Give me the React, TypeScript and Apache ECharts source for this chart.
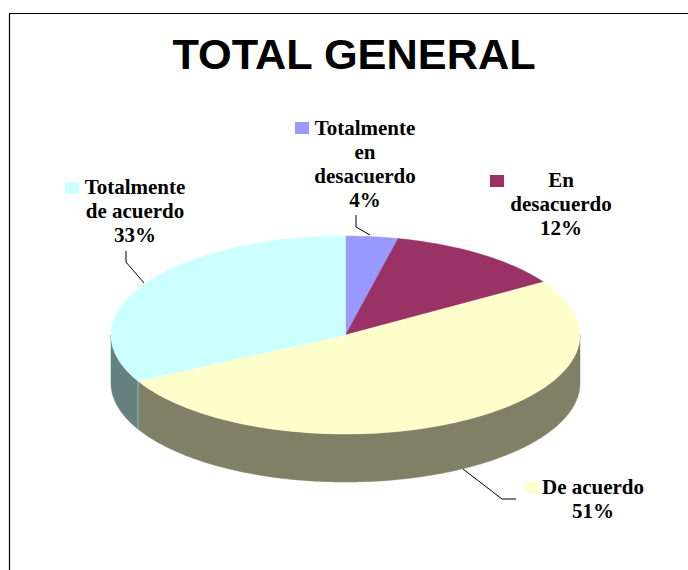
import React, { useEffect, useRef } from "react";
import * as echarts from "echarts";

const titleText = "TOTAL GENERAL";
const categories = ["Totalmente\nen\ndesacuerdo", "En\ndesacuerdo", "De acuerdo", "Totalmente\nde acuerdo"];
const values = [3.6, 12.4, 51.3, 32.7];

const topColors = ["#9999FF", "#993366", "#FFFFCC", "#CCFFFF"];
const wallColors = ["#666699", "#66223F", "#808066", "#668080"];

const CX = 345.5;
const CY = 335;
const RX = 234.5;
const RY = 99;
const DEPTH = 48;
const FONT = "'Liberation Serif', 'Times New Roman', serif";

// Layout of the outside labels (text centre, first-line top, key box, leader line).
const labelLayout = [
  { x: 365, y: 116, key: [295, 122], leader: [[356, 215], [356, 227], [370, 235]] },
  { x: 561, y: 168, key: [490, 175], leader: null },
  { x: 593, y: 475, key: [525, 481], leader: [[463, 469], [502, 499], [516, 499]] },
  { x: 135, y: 175, key: [65, 182], leader: [[126, 251], [126, 262], [144, 283]] },
];

const total = values.reduce((a, b) => a + b, 0);

function rim(deg: number, dy = 0): number[] {
  const t = (deg * Math.PI) / 180;
  return [CX + RX * Math.sin(t), CY - RY * Math.cos(t) + dy];
}

function arc(a: number, b: number, dy = 0): number[][] {
  const pts: number[][] = [];
  const n = Math.max(2, Math.ceil(Math.abs(b - a)));
  for (let i = 0; i <= n; i++) pts.push(rim(a + ((b - a) * i) / n, dy));
  return pts;
}

function renderItem(params: any, api: any) {
  const i = params.dataIndex;
  const before = values.slice(0, i).reduce((a, b) => a + b, 0);
  const v = api.value(0);
  const start = (before / total) * 360;
  const end = ((before + v) / total) * 360;
  const children: any[] = [];

  const wa = Math.max(start, 90);
  const wb = Math.min(end, 270);
  if (wb > wa) {
    children.push({
      type: "polygon",
      shape: { points: [...arc(wa, wb), ...arc(wb, wa, DEPTH)] },
      style: { fill: wallColors[i], stroke: wallColors[i], lineWidth: 0.5 },
    });
    if (start >= 90 && start < 270) {
      const p = rim(start);
      children.push({
        type: "line",
        shape: { x1: p[0], y1: p[1], x2: p[0], y2: p[1] + DEPTH },
        style: { stroke: "#8FB3B3", lineWidth: 1 },
      });
    }
  }
  children.push({
    type: "polygon",
    shape: { points: [[CX, CY], ...arc(start, end)] },
    style: { fill: topColors[i], stroke: topColors[i], lineWidth: 0.4 },
  });

  const lay = labelLayout[i];
  children.push({
    type: "rect",
    shape: { x: lay.key[0], y: lay.key[1], width: 14, height: 12 },
    style: { fill: topColors[i] },
  });
  if (lay.leader) {
    children.push({
      type: "polyline",
      shape: { points: lay.leader },
      style: { stroke: "#000", lineWidth: 1, fill: "none" },
    });
  }
  children.push({
    type: "text",
    style: {
      text: `${categories[i]}\n${Math.round((v / total) * 100)}%`,
      x: lay.x,
      y: lay.y,
      align: "center",
      verticalAlign: "top",
      fontFamily: FONT,
      fontWeight: "bold",
      fontSize: 21,
      lineHeight: 24,
      fill: "#000",
    },
  });
  return { type: "group", children };
}

export default function App() {
  const ref = useRef<HTMLDivElement>(null);
  useEffect(() => {
    const chart = echarts.init(ref.current!, null, { renderer: "svg" });
    chart.setOption({
      animation: false,
      backgroundColor: "#FFFFFF",
      title: {
        text: titleText,
        left: 349,
        top: 27,
        textAlign: "center",
        textStyle: {
          fontFamily: "'Liberation Sans', Arial, sans-serif",
          fontWeight: "bold",
          fontSize: 43.3,
          color: "#000",
        },
      },
      graphic: [
        {
          type: "polyline",
          shape: { points: [[9.5, 570], [9.5, 13.5], [688, 13.5]] },
          style: { stroke: "#000", lineWidth: 1.2, fill: "none" },
        },
      ],
      series: [
        {
          type: "custom",
          coordinateSystem: "none",
          silent: true,
          data: values,
          renderItem,
        },
      ],
    });
    return () => chart.dispose();
  }, []);
  return <div ref={ref} style={{ position: "absolute", left: 0, top: 0, width: 688, height: 570 }} />;
}
